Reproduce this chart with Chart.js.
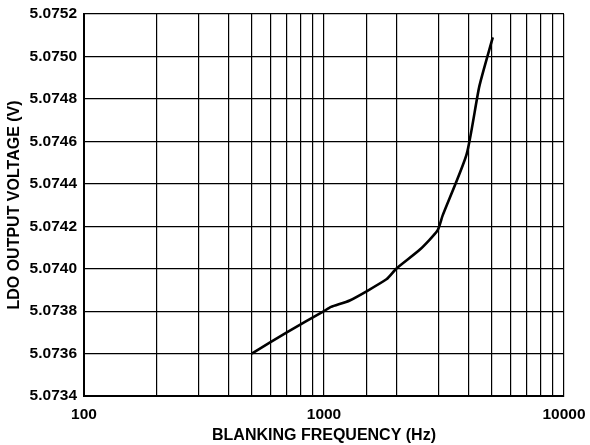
<!DOCTYPE html>
<html>
<head>
<meta charset="utf-8">
<script src="https://cdn.jsdelivr.net/npm/chart.js@4"></script>
<style>
  html, body { margin: 0; padding: 0; background: #fff; }
  #wrap { width: 590px; height: 445px; }
</style>
</head>
<body>
<div id="wrap"><canvas id="myChart" width="590" height="445"></canvas></div>
<script>
// values
var freqHz = [500, 700, 1000, 1070, 1280, 1820, 2000, 2510, 2970, 3120, 3930, 4440, 5050];
var ldoVolts = [5.07360, 5.07370, 5.07380, 5.07382, 5.07385, 5.07395, 5.07400, 5.07409, 5.07418, 5.07425, 5.07454, 5.07486, 5.07509];

var xLabels = [100, 1000, 10000];
var yMin = 5.0734, yMax = 5.0752, yStep = 0.0002;

var points = freqHz.map(function (f, i) { return { x: f, y: ldoVolts[i] }; });

var font = "'Liberation Sans', Arial, sans-serif";

new Chart("myChart", {
  type: "scatter",
  data: {
    datasets: [{
      data: points,
      showLine: true,
      borderColor: "#000",
      borderWidth: 2.6,
      pointRadius: 0,
      tension: 0.2
    }]
  },
  options: {
    responsive: false,
    animation: false,
    layout: { padding: { left: 0, right: 26, top: 14, bottom: 0 } },
    plugins: { legend: { display: false }, tooltip: { enabled: false } },
    scales: {
      x: {
        type: "logarithmic",
        min: 100,
        max: 10000,
        grid: { color: "#000", lineWidth: 1.2, drawTicks: false },
        border: { color: "#000", width: 2 },
        ticks: {
          autoSkip: false,
          maxRotation: 0,
          padding: 9,
          color: "#000",
          font: { family: font, size: 15.5, weight: "bold" },
          callback: function (v) { return xLabels.indexOf(v) >= 0 ? String(v) : ""; }
        },
        title: {
          display: true,
          text: "BLANKING FREQUENCY (Hz)",
          color: "#000",
          padding: { top: 2, bottom: 0 },
          font: { family: font, size: 16, weight: "bold" }
        },
        afterFit: function (s) { s.height = 49; s.paddingLeft = 0; s.paddingRight = 0; }
      },
      y: {
        min: yMin,
        max: yMax,
        grid: { color: "#000", lineWidth: 1.2, drawTicks: false },
        border: { color: "#000", width: 2 },
        ticks: {
          stepSize: yStep,
          padding: 7,
          color: "#000",
          font: { family: font, size: 15.5, weight: "bold" },
          callback: function (v) { return Number(v).toFixed(4); }
        },
        title: {
          display: true,
          text: "LDO OUTPUT VOLTAGE (V)",
          color: "#000",
          padding: { top: 5, bottom: 0 },
          font: { family: font, size: 16, weight: "bold" }
        },
        afterFit: function (s) { s.width = 84; s.paddingTop = 0; s.paddingBottom = 0; }
      }
    }
  }
});
</script>
</body>
</html>
